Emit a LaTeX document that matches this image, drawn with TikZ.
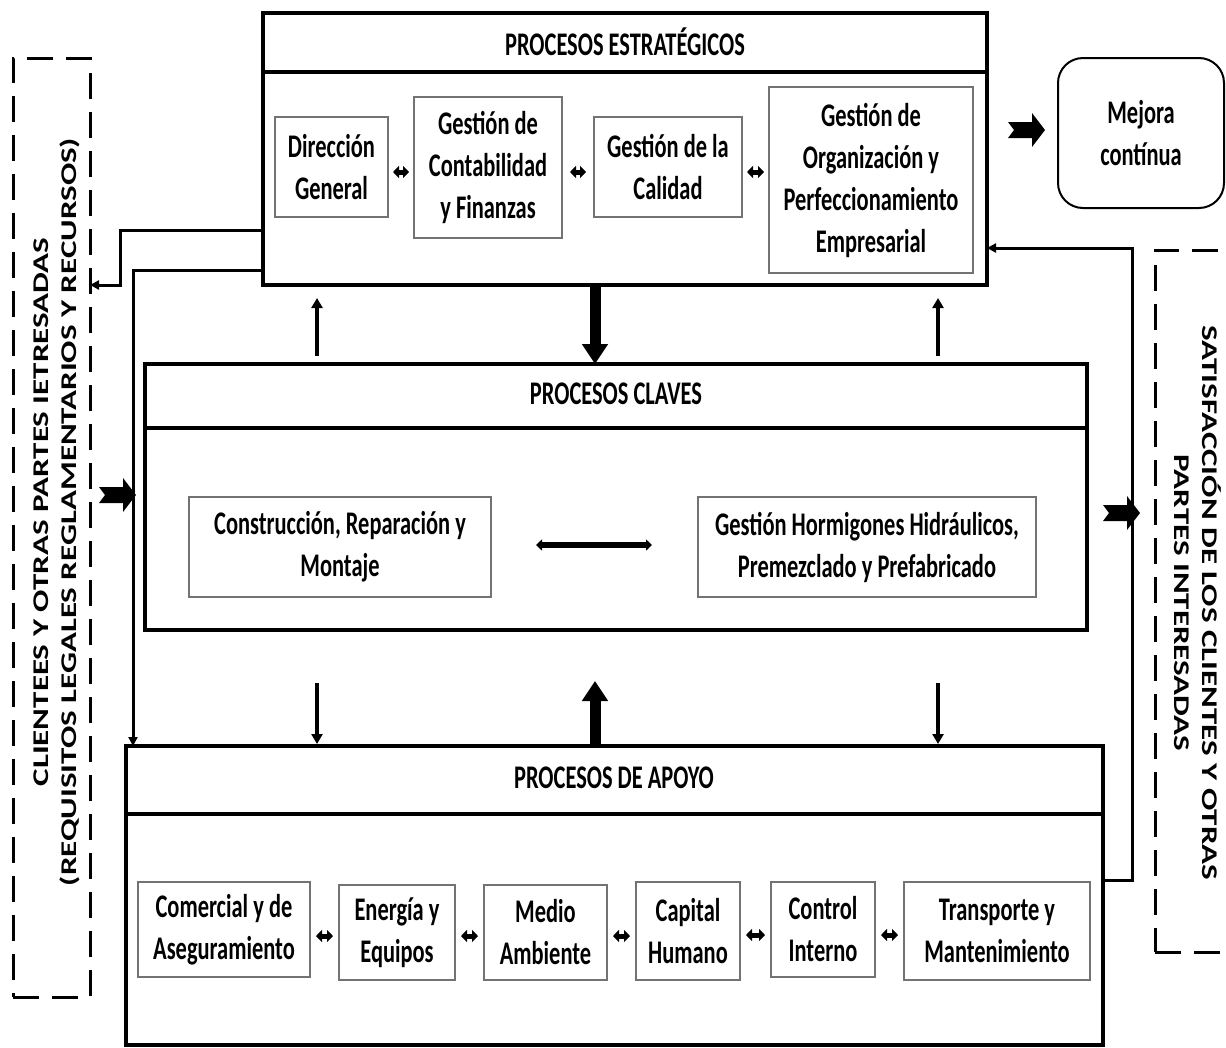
\documentclass[tikz,border=0pt]{standalone}
\usepackage{fontspec}
\usepackage{graphicx}
\setmainfont{Carlito}[FakeStretch=0.68]
\newfontfamily\rotfont{Carlito}
\usetikzlibrary{arrows.meta}
\newcommand\blockarr[1]{\fill[shift={(#1)}] (0,-8) -- (24,-8) -- (24,-17) -- (37,0) -- (24,17) -- (24,8) -- (0,8) -- (6,0) -- cycle;}
\begin{document}
\begin{tikzpicture}[x=1pt,y=-1pt,
  every node/.style={font=\fontsize{33pt}{42pt}\selectfont\bfseries, inner sep=0pt, outer sep=0pt},
  bigbox/.style={draw, line width=4pt},
  sepline/.style={line width=4pt},
  inbox/.style={draw=black!55, line width=1.5pt, align=center},
  dashbox/.style={draw, line width=3pt, dash pattern=on 26pt off 13pt},
  dbl/.style={line width=5pt, {Triangle[length=6pt,width=12pt]}-{Triangle[length=6pt,width=12pt]}},
  thinarr/.style={line width=3.5pt, -{Triangle[length=10pt,width=11pt]}},
  thickarr/.style={line width=11pt, -{Triangle[length=20pt,width=25pt]}},
  fb/.style={line width=3pt, -{Triangle[length=9pt,width=9pt]}}
]
\clip (0,0) rectangle (1226,1047);

% ---------- big boxes ----------
\node[bigbox, minimum width=724pt, minimum height=272pt] (estr) at (625,149) {};
\draw[sepline] (estr.west |- 0,72) -- (estr.east |- 0,72);
\node (estrT) at (625,42) {PROCESOS ESTRATÉGICOS};

\node[bigbox, minimum width=942pt, minimum height=266pt] (clav) at (616,497) {};
\draw[sepline] (clav.west |- 0,428) -- (clav.east |- 0,428);
\node (clavT) at (616,394) {PROCESOS CLAVES};

\node[bigbox, minimum width=977pt, minimum height=299pt] (apoy) at (614.5,895.5) {};
\draw[sepline] (apoy.west |- 0,814) -- (apoy.east |- 0,814);
\node (apoyT) at (614,778) {PROCESOS DE APOYO};

% ---------- strategic inner boxes ----------
\node[inbox, minimum width=113pt, minimum height=100pt] (dg) at (331.5,167) {Dirección\\General};
\node[inbox, minimum width=148pt, minimum height=141pt] (gcf) at (488,167.5) {Gestión de\\Contabilidad\\y Finanzas};
\node[inbox, minimum width=148pt, minimum height=100pt] (gc) at (668,167) {Gestión de la\\Calidad};
\node[inbox, minimum width=204pt, minimum height=186pt] (gope) at (871,180) {Gestión de\\Organización y\\Perfeccionamiento\\Empresarial};

\draw[dbl, shorten <=5pt, shorten >=5pt] (dg.east |- 0,172) -- (gcf.west |- 0,172);
\draw[dbl, shorten <=8pt, shorten >=8pt] (gcf.east |- 0,172) -- (gc.west |- 0,172);
\draw[dbl, shorten <=5pt, shorten >=5pt] (gc.east |- 0,172) -- (gope.west |- 0,172);

% ---------- mejora ----------
\node[draw, line width=2pt, rounded corners=25pt, minimum width=166pt, minimum height=150pt, align=center] (mej) at (1141,133) {Mejora\\contínua};

% ---------- key processes ----------
\node[inbox, minimum width=302pt, minimum height=100pt] (crm) at (340,547) {Construcción, Reparación y\\Montaje};
\node[inbox, minimum width=338pt, minimum height=100pt] (ghh) at (867,547) {Gestión Hormigones Hidráulicos,\\Premezclado y Prefabricado};
\draw[line width=5.5pt, {Triangle[length=6pt,width=11pt]}-{Triangle[length=6pt,width=11pt]}, shorten <=45pt, shorten >=46pt] (crm.east |- 0,545) -- (ghh.west |- 0,545);

% ---------- support processes ----------
\node[inbox, minimum width=172pt, minimum height=95pt] (com) at (224,929.5) {Comercial y de\\Aseguramiento};
\node[inbox, minimum width=116pt, minimum height=95pt] (ene) at (397,932.5) {Energía y\\Equipos};
\node[inbox, minimum width=123pt, minimum height=95pt] (med) at (545.5,932.5) {Medio\\Ambiente};
\node[inbox, minimum width=104pt, minimum height=98pt] (cap) at (688,931) {Capital\\Humano};
\node[inbox, minimum width=104pt, minimum height=95pt] (con) at (823,929.5) {Control\\Interno};
\node[inbox, minimum width=186pt, minimum height=98pt] (tra) at (997,931) {Transporte y\\Mantenimiento};

\draw[dbl, shorten <=6pt, shorten >=6pt] (com.east |- 0,936) -- (ene.west |- 0,936);
\draw[dbl, shorten <=6pt, shorten >=6pt] (ene.east |- 0,936) -- (med.west |- 0,936);
\draw[dbl, shorten <=6pt, shorten >=6pt] (med.east |- 0,936) -- (cap.west |- 0,936);
\draw[dbl, shorten <=6pt, shorten >=6pt] (cap.east |- 0,935) -- (con.west |- 0,935);
\draw[dbl, shorten <=6pt, shorten >=6pt] (con.east |- 0,935) -- (tra.west |- 0,935);

% ---------- vertical arrows ----------
\draw[thinarr, shorten <=8pt, shorten >=13pt] (clav.north -| 317,0) -- (estr.south -| 317,0);
\draw[thinarr, shorten <=8pt, shorten >=13pt] (clav.north -| 938,0) -- (estr.south -| 938,0);
\draw[thickarr] (estr.south -| 595,0) -- (clav.north -| 595,0);
\draw[thickarr, shorten >=51pt] (apoy.north -| 595,0) -- (clav.south -| 595,0);
\draw[thinarr, shorten <=53pt, shorten >=2pt] (clav.south -| 317,0) -- (apoy.north -| 317,0);
\draw[thinarr, shorten <=53pt, shorten >=2pt] (clav.south -| 938,0) -- (apoy.north -| 938,0);

% ---------- side dashed boxes ----------
\node[dashbox, minimum width=77pt, minimum height=939pt] (lbox) at (51.5,527.5) {};
\node[rotate=90] (ltext) at (57,512) {\scalebox{1}[0.68]{\rotfont\fontsize{33pt}{40pt}\selectfont\bfseries\begin{tabular}{@{}c@{}}CLIENTEES Y OTRAS PARTES IETRESADAS\\(REQUISITOS LEGALES REGLAMENTARIOS Y RECURSOS)\end{tabular}}};

\node[dashbox, minimum width=90pt, minimum height=702pt] (rbox) at (1200,601) {};
\node[rotate=-90] (rtext) at (1194,603) {\scalebox{1}[0.68]{\rotfont\fontsize{33pt}{40pt}\selectfont\bfseries\begin{tabular}{@{}c@{}}SATISFACCIÓN DE LOS CLIENTES Y OTRAS\\PARTES INTERESADAS\end{tabular}}};

% ---------- feedback lines ----------
\draw[fb] (estr.west |- 0,230) -- (120,230) -- (120,285) -- (lbox.east |- 0,285);
\draw[fb] (estr.west |- 0,270) -| (apoy.north -| 133,0);
\draw[fb] (apoy.east |- 0,880) -- (1132,880) -- (1132,248) -- (estr.east |- 0,248);

% ---------- block arrows ----------
\blockarr{99,495}
\blockarr{1103,513}
\blockarr{1008,130}
\end{tikzpicture}
\end{document}
